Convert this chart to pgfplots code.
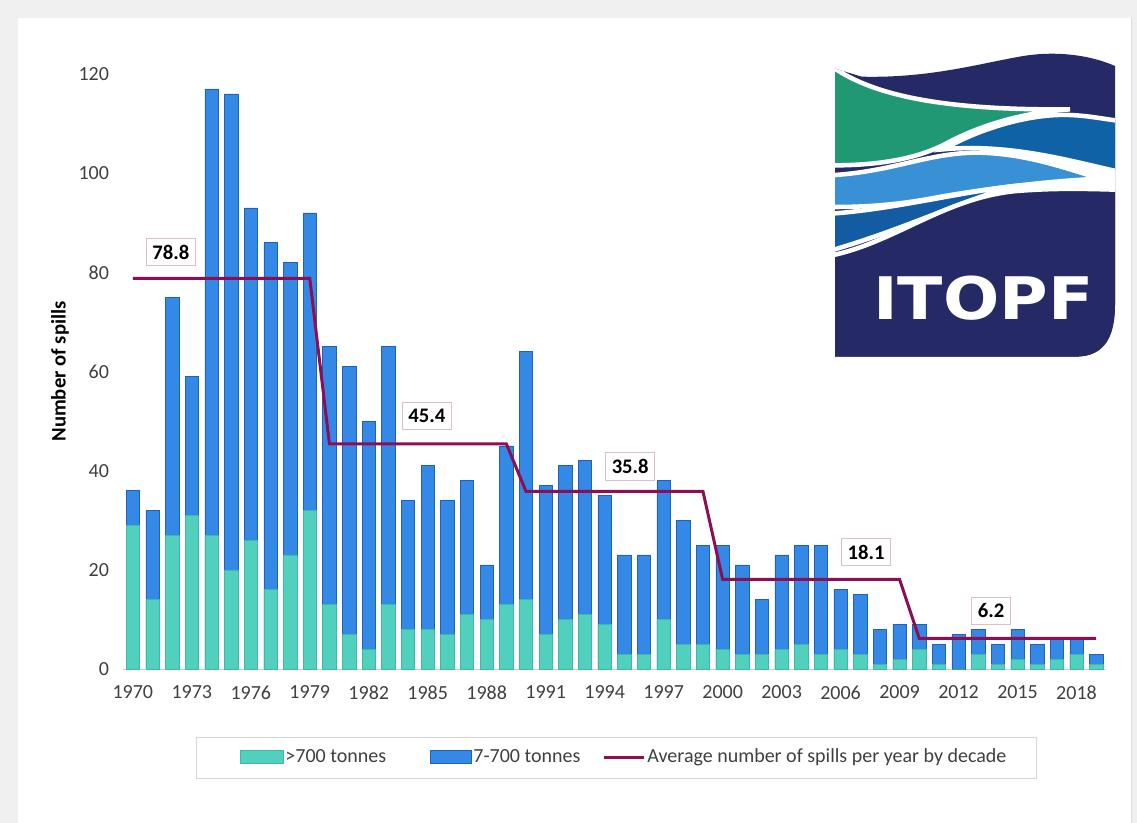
\documentclass[border=0pt]{standalone}
\usepackage{fontspec}
\setmainfont{Carlito}
\newfontfamily\logofont{DejaVu Sans}
\usepackage{pgfplots}
\pgfplotsset{compat=1.18}
\usepackage{pgfplotstable}

\definecolor{gr}{RGB}{82,208,190}
\definecolor{grd}{RGB}{62,185,168}
\definecolor{bl}{RGB}{52,136,230}
\definecolor{bld}{RGB}{32,98,182}
\definecolor{avg}{RGB}{140,15,85}
\definecolor{lblbox}{RGB}{222,190,205}
\definecolor{tickc}{RGB}{64,64,64}
\definecolor{navy}{RGB}{37,42,102}
\definecolor{lgreen}{RGB}{32,152,116}
\definecolor{lmid}{RGB}{16,98,166}
\definecolor{llight}{RGB}{56,145,212}
\definecolor{ldark}{RGB}{20,92,162}

\pgfplotstableread{
year big small
1970 29 7
1971 14 18
1972 27 48
1973 31 28
1974 27 90
1975 20 96
1976 26 67
1977 16 70
1978 23 59
1979 32 60
1980 13 52
1981 7 54
1982 4 46
1983 13 52
1984 8 26
1985 8 33
1986 7 27
1987 11 27
1988 10 11
1989 13 32
1990 14 50
1991 7 30
1992 10 31
1993 11 31
1994 9 26
1995 3 20
1996 3 20
1997 10 28
1998 5 25
1999 5 20
2000 4 21
2001 3 18
2002 3 11
2003 4 19
2004 5 20
2005 3 22
2006 4 12
2007 3 12
2008 1 7
2009 2 7
2010 4 5
2011 1 4
2012 0 7
2013 3 5
2014 1 4
2015 2 6
2016 1 4
2017 2 4
2018 3 3
2019 1 2
}\spills

\pgfplotstableread{
year avg
1970 78.8
1979 78.8
1980 45.4
1989 45.4
1990 35.8
1999 35.8
2000 18.1
2009 18.1
2010 6.2
2019 6.2
}\avgtab

\pgfplotstableread{
x y label
1971.93 84.1 78.8
1984.96 51.0 45.4
1995.30 40.9 35.8
2007.30 23.6 18.1
2013.66 11.7 6.2
}\labtab

\begin{document}
\begin{tikzpicture}
\path[use as bounding box] (0,0) rectangle (852.75pt,-617.25pt);
\begin{scope}[x=0.75pt,y=-0.75pt]
\fill[black!6] (0,0) rectangle (1137,823);
\fill[white] (18,18) rectangle (1131,823);
\draw[black!14, line width=0.75pt] (1131.5,18) -- (1131.5,823);
\draw[black!16, line width=0.75pt] (196,737) rectangle (1036,778);
\end{scope}

\begin{axis}[
  at={(92.25pt,-501.75pt)}, anchor=south west,
  scale only axis, width=737.25pt, height=446.25pt,
  xmin=1969.5, xmax=2019.5, ymin=0, ymax=120,
  axis line style={draw=none},
  xtick={1970,1973,...,2018}, ytick={0,20,...,120},
  major tick length=0pt,
  tick style={draw=none},
  /pgf/number format/assume math mode=true,
  tick label style={font=\fontsize{15}{18}\selectfont, text=tickc},
  x tick label style={/pgf/number format/1000 sep={}, yshift=-9pt},
  y tick label style={xshift=-7pt},
  ylabel={Number of spills},
  every axis y label/.style={at={(rel axis cs:-0.0641,0.5)}, rotate=90, anchor=center, font=\fontsize{15.5}{18}\selectfont\bfseries},
  legend columns=3,
  legend cell align=left,
  legend style={draw=none, fill=none, at={(0.119,-0.1479)}, anchor=west, inner sep=0pt,
    nodes={inner xsep=1.5pt, inner ysep=0pt, font=\fontsize{15}{18}\selectfont, text=tickc},
    /tikz/every even column/.append style={column sep=15pt}},
  clip=false,
]
\draw[black!18, line width=0.75pt] (rel axis cs:0,0) -- (rel axis cs:1,0);
\addplot[ybar, bar width=0.68, bar shift=0pt, fill=bl, draw=bld, line width=0.4pt, forget plot]
  table[x=year, y expr=\thisrow{big}+\thisrow{small}] {\spills};
\addplot[ybar, bar width=0.68, bar shift=0pt, fill=gr, draw=grd, line width=0.4pt, forget plot]
  table[x=year, y=big] {\spills};
\addplot[avg, line width=2.25pt, mark=none, sharp plot, forget plot]
  table[x=year, y=avg] {\avgtab};
\addplot[draw=none, mark=none, forget plot, nodes near coords, point meta=explicit symbolic,
  every node near coord/.append style={anchor=center, draw=lblbox, fill=white, line width=0.75pt,
    font=\fontsize{15.5}{18}\selectfont\bfseries, text=black, inner xsep=4.5pt, inner ysep=5pt}]
  table[x=x, y=y, meta=label] {\labtab};

\addlegendimage{legend image code/.code={\draw[fill=gr,draw=grd] (0pt,-4.9pt) rectangle (32pt,4.9pt);}}
\addlegendentry{>700 tonnes}
\addlegendimage{legend image code/.code={\path (-16pt,0pt); \draw[fill=bl,draw=bld] (0pt,-4.9pt) rectangle (31pt,4.9pt);}}
\addlegendentry{7-700 tonnes}
\addlegendimage{legend image code/.code={\draw[avg, line width=2.25pt] (0pt,0pt) -- (30pt,0pt);}}
\addlegendentry{Average number of spills per year by decade}
\end{axis}

% ITOPF logo
\begin{scope}[x=0.25pt,y=-0.25pt, shift={(622.5pt,-37.5pt)}]
\begin{scope}
\clip (15,56) -- (15,920) -- (735,920) .. controls (825,920) and (855,860) .. (855,760)
  -- (855,48) .. controls (780,15) and (680,2) .. (580,18) .. controls (450,40) and (300,85) .. (95,80) -- cycle;
\fill[navy] (0,0) rectangle (900,1000);
\fill[white] (450,300) rectangle (900,432);
\begin{scope}[line width=3.4pt, draw=white]
\filldraw[fill=lgreen] (-20,50) -- (15,56) .. controls (120,125) and (300,182) .. (720,178)
  .. controls (570,188) and (440,230) .. (340,285) .. controls (240,335) and (110,348) .. (-20,346) -- cycle;
\filldraw[fill=lmid] (340,298) .. controls (450,235) and (600,190) .. (720,195)
  .. controls (790,198) and (830,210) .. (900,216) -- (900,372) .. controls (760,345) and (560,278) .. (340,298) -- cycle;
\filldraw[fill=llight] (-20,375) -- (15,375) .. controls (200,362) and (300,306) .. (450,308)
  .. controls (600,312) and (720,360) .. (812,386) .. controls (650,393) and (450,418) .. (300,446)
  .. controls (180,468) and (80,471) .. (15,471) -- (-20,471) -- cycle;
\filldraw[fill=ldark] (-20,490) -- (15,490) .. controls (200,476) and (400,424) .. (565,407)
  .. controls (420,440) and (250,528) .. (15,598) -- (-20,598) -- cycle;
\filldraw[fill=navy] (-20,614) -- (15,614) .. controls (200,572) and (350,442) .. (560,423)
  .. controls (700,412) and (800,418) .. (900,420) -- (900,1000) -- (-20,1000) -- cycle;
\end{scope}
\end{scope}
\node[text=white, font=\logofont\bfseries\fontsize{44}{48}\selectfont, xscale=1.13, inner sep=0pt] at (460,745) {ITOPF};
\end{scope}
\end{tikzpicture}
\end{document}
